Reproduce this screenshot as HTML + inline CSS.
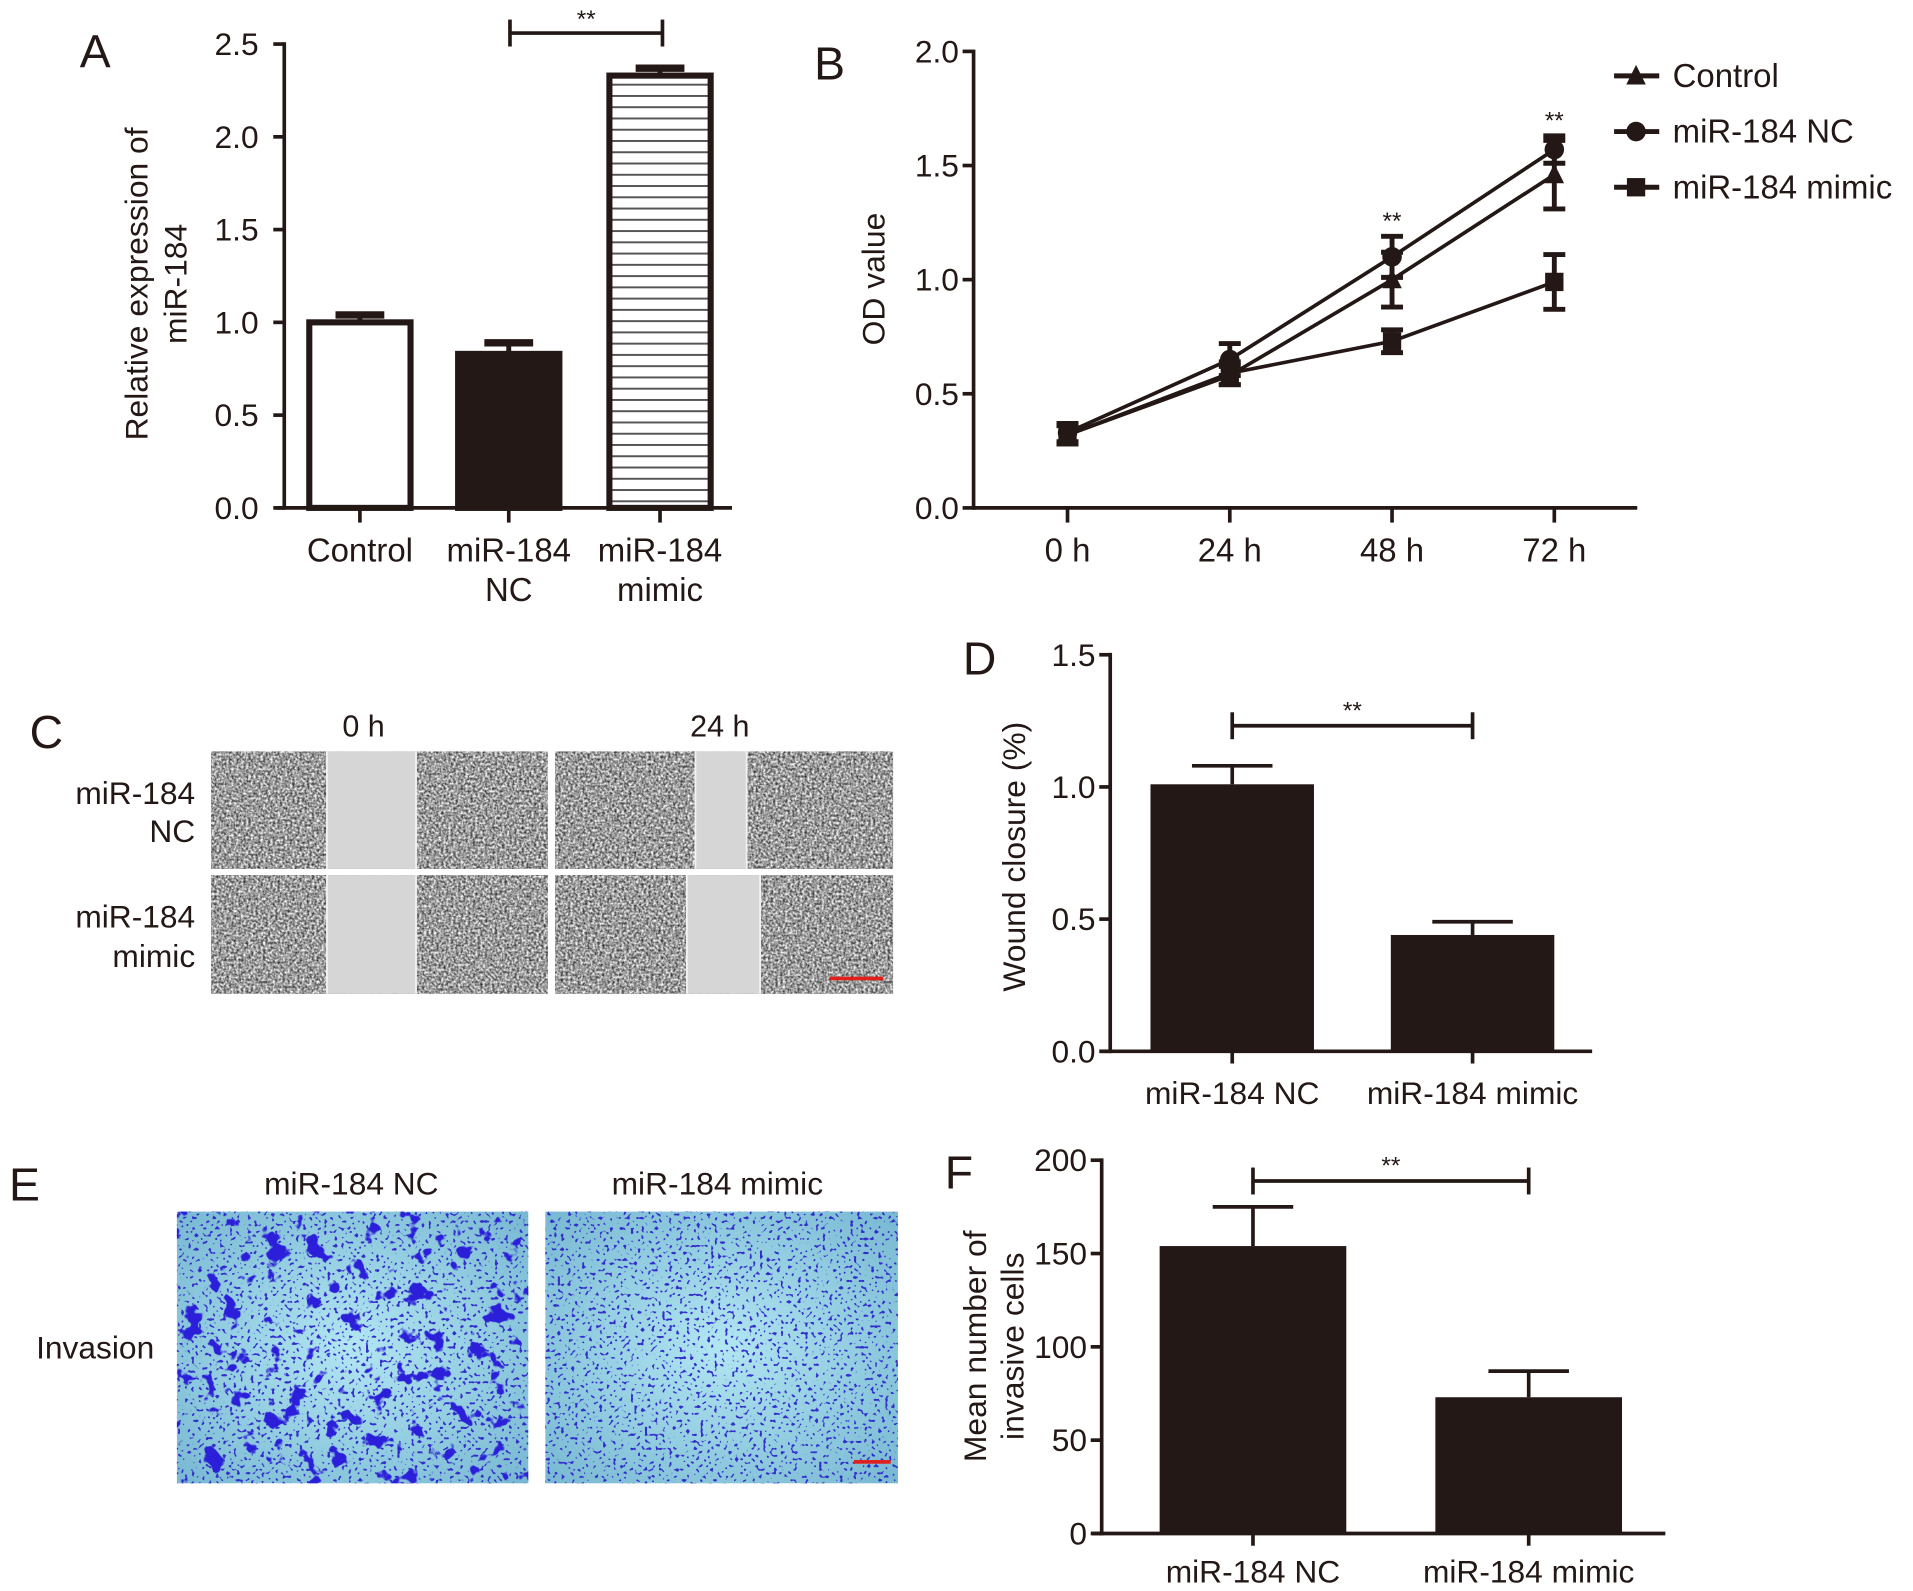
<!DOCTYPE html>
<html><head><meta charset="utf-8"><style>
html,body{margin:0;padding:0;background:#fff;}
svg{display:block;}
text{font-family:"Liberation Sans",sans-serif;fill:#231815;}
</style></head><body>
<svg id="fig" width="1913" height="1591" viewBox="0 0 1568 1300" preserveAspectRatio="none" xmlns="http://www.w3.org/2000/svg">
<defs>
<filter id="grayTex" x="0" y="0" width="100%" height="100%" color-interpolation-filters="sRGB">
<feTurbulence type="fractalNoise" baseFrequency="0.5" numOctaves="2" seed="3" result="n"/>
<feColorMatrix in="n" type="matrix" values="1.3 0 0 0 -0.04  1.3 0 0 0 -0.04  1.3 0 0 0 -0.04  0 0 0 0 1"/>
<feComposite in2="SourceGraphic" operator="in"/>
</filter>
<filter id="blueTex" x="0" y="0" width="100%" height="100%" color-interpolation-filters="sRGB">
<feTurbulence type="fractalNoise" baseFrequency="0.06" numOctaves="3" seed="7"/>
<feColorMatrix type="matrix" values="0 0 0 0 0.17  0 0 0 0 0.12  0 0 0 0 0.85  18 0 0 0 -11.2"/>
<feComposite in2="SourceGraphic" operator="in"/>
</filter>
<filter id="blueDots" x="0" y="0" width="100%" height="100%" color-interpolation-filters="sRGB">
<feTurbulence type="fractalNoise" baseFrequency="0.35" numOctaves="1" seed="11"/>
<feColorMatrix type="matrix" values="0 0 0 0 0.2  0 0 0 0 0.18  0 0 0 0 0.8  15 0 0 0 -9.1"/>
<feComposite in2="SourceGraphic" operator="in"/>
</filter>
<radialGradient id="cyanBg" cx="50%" cy="50%" r="70%">
<stop offset="0" stop-color="#b2e6f2"/><stop offset="1" stop-color="#78b8d2"/>
</radialGradient>
<pattern id="hlines" width="10" height="9.2" patternUnits="userSpaceOnUse">
<rect width="10" height="9.2" fill="#fff"/><rect y="4" width="10" height="1.6" fill="#555"/>
</pattern>
</defs>
<g id="root"></g>
</svg>
<script>
// ---------- Data ----------
const aCategories = [["Control"], ["miR-184", "NC"], ["miR-184", "mimic"]];
const aValues = [1.0, 0.83, 2.33];
const aErrors = [0.04, 0.06, 0.04];
const aTicks = ["0.0", "0.5", "1.0", "1.5", "2.0", "2.5"];

const bTimes = ["0 h", "24 h", "48 h", "72 h"];
const bControl = [0.32, 0.58, 1.00, 1.46];
const bControlErr = [0.04, 0.04, 0.12, 0.15];
const bNC = [0.33, 0.65, 1.10, 1.57];
const bNCErr = [0.04, 0.07, 0.09, 0.06];
const bMimic = [0.32, 0.59, 0.73, 0.99];
const bMimicErr = [0.04, 0.05, 0.05, 0.12];
const bTicks = ["0.0", "0.5", "1.0", "1.5", "2.0"];

const dCategories = ["miR-184 NC", "miR-184 mimic"];
const dValues = [1.01, 0.44];
const dErrors = [0.07, 0.05];
const dTicks = ["0.0", "0.5", "1.0", "1.5"];

const fCategories = ["miR-184 NC", "miR-184 mimic"];
const fValues = [154, 73];
const fErrors = [21, 14];
const fTicks = ["0", "50", "100", "150", "200"];

// ---------- helpers ----------
const NS = "http://www.w3.org/2000/svg";
const root = document.getElementById("root");
const INK = "#231815";
function el(tag, attrs, parent) {
  const e = document.createElementNS(NS, tag);
  for (const k in attrs) e.setAttribute(k, attrs[k]);
  (parent || root).appendChild(e);
  return e;
}
function txt(s, x, y, size, anchor, parent, extra) {
  const t = el("text", Object.assign({x: x, y: y, "font-size": size, "text-anchor": anchor || "middle"}, extra || {}), parent);
  t.textContent = s;
  return t;
}
function line(x1, y1, x2, y2, w, parent) {
  return el("line", {x1: x1, y1: y1, x2: x2, y2: y2, stroke: INK, "stroke-width": w || 3}, parent);
}
function group(name) {
  const g = el("g", {});
  
  
  return g;
}
function sig(g, x1, x2, y, ty) {
  line(x1, y, x2, y, 3, g); line(x1, y - 11, x1, y + 11, 3, g); line(x2, y - 11, x2, y + 11, 3, g);
  const s = txt("**", (x1 + x2) / 2, ty, 20, "middle", g);
  
  
}
function vlabel(g, lines, x, cy, size, gap) {
  lines.forEach((s, i) => {
    const xx = x + i * gap;
    const t = txt(s, xx, cy, size, "middle", g, {transform: "rotate(-90 " + xx + " " + cy + ")"});
    
    
  });
}

// ---------- Panel A ----------
(function () {
  const g = group("panel-a-bar-chart");
  const ax = 233, y0 = 415, ymax = 2.5, ytop = 36;
  const ys = v => y0 - (v / ymax) * (y0 - ytop);
  const centers = [295, 417, 541], bw = 83;
  txt("A", 78, 55, 38, "middle", g);
  aValues.forEach((v, i) => {
    const cx = centers[i];
    const fill = i === 0 ? "#fff" : (i === 1 ? INK : "url(#hlines)");
    const r = el("rect", {x: cx - bw / 2, y: ys(v), width: bw, height: y0 - ys(v), fill: fill, stroke: INK, "stroke-width": 5}, g);
    
    
    line(cx, ys(v), cx, ys(v + aErrors[i]), 4, g);
    line(cx - 20, ys(v + aErrors[i]), cx + 20, ys(v + aErrors[i]), 6, g);
    line(cx, y0, cx, y0 + 12, 3, g);
    aCategories[i].forEach((s, j) => {
      const t = txt(s, cx, 459 + j * 32, 27, "middle", g);
      
      
    });
  });
  line(ax, y0 + 1.5, ax, ytop - 1.5, 3, g);
  line(226, y0, 600, y0, 3, g);
  aTicks.forEach(s => {
    const y = ys(parseFloat(s));
    line(ax - 9, y, ax, y, 3, g);
    const t = txt(s, 212, y + 9, 26, "end", g);
    
    
  });
  vlabel(g, ["Relative expression of", "miR-184"], 121, 232, 26, 32);
  sig(g, 418, 543, 27, 22);
})();

// ---------- Panel B ----------
(function () {
  const g = group("panel-b-line-chart");
  const ax = 798, y0 = 415, ytop = 42, ymax = 2.0;
  const ys = v => y0 - (v / ymax) * (y0 - ytop);
  const xs = i => 875 + i * 133;
  txt("B", 680, 65, 38, "middle", g);
  line(ax, y0 + 1.5, ax, ytop - 1.5, 3, g);
  line(ax, y0, 1342, y0, 3, g);
  bTicks.forEach(s => {
    const y = ys(parseFloat(s));
    line(ax - 9, y, ax, y, 3, g);
    const t = txt(s, 786, y + 9, 26, "end", g);
    
    
  });
  bTimes.forEach((s, i) => {
    line(xs(i), y0, xs(i), y0 + 12, 3, g);
    const t = txt(s, xs(i), 459, 27, "middle", g);
    
    
  });
  vlabel(g, ["OD value"], 725, 228, 26, 0);
  const series = [
    {name: "control", v: bControl, e: bControlErr, m: "tri"},
    {name: "nc", v: bNC, e: bNCErr, m: "circ"},
    {name: "mimic", v: bMimic, e: bMimicErr, m: "sq"}
  ];
  function marker(m, x, y, pg) {
    if (m === "tri") return el("polygon", {points: (x - 8) + "," + (y + 7) + " " + (x + 8) + "," + (y + 7) + " " + x + "," + (y - 9), fill: INK}, pg);
    if (m === "circ") return el("circle", {cx: x, cy: y, r: 8, fill: INK}, pg);
    return el("rect", {x: x - 7.5, y: y - 7.5, width: 15, height: 15, fill: INK}, pg);
  }
  series.forEach(s => {
    const sg = el("g", {}, g);
    
    
    el("polyline", {points: s.v.map((v, i) => xs(i) + "," + ys(v)).join(" "), fill: "none", stroke: INK, "stroke-width": 3}, sg);
    s.v.forEach((v, i) => {
      const x = xs(i);
      line(x, ys(v - s.e[i]), x, ys(v + s.e[i]), 4, sg);
      line(x - 9, ys(v - s.e[i]), x + 9, ys(v - s.e[i]), 4, sg);
      line(x - 9, ys(v + s.e[i]), x + 9, ys(v + s.e[i]), 4, sg);
      const mk = marker(s.m, x, ys(v), sg);
      
      
    });
  });
  txt("**", xs(2), ys(Math.max(bNC[2] + bNCErr[2], bControl[2] + bControlErr[2])) - 6, 20, "middle", g);
  txt("**", xs(3), ys(Math.max(bNC[3] + bNCErr[3], bControl[3] + bControlErr[3])) - 6, 20, "middle", g);
  const leg = [["Control", "tri"], ["miR-184 NC", "circ"], ["miR-184 mimic", "sq"]];
  leg.forEach((L, i) => {
    const y = 62 + i * 45.5;
    const lg = el("g", {}, g);
    
    
    line(1323, y, 1360, y, 4, lg);
    marker(L[1], 1341, y, lg);
    txt(L[0], 1371, y + 9, 27, "start", lg);
  });
})();

// ---------- Panel C (images) ----------
(function () {
  const g = group("panel-c-wound-images");
  txt("C", 38, 611, 38, "middle", g);
  txt("0 h", 298, 602, 25, "middle", g);
  txt("24 h", 590, 602, 25, "middle", g);
  [["miR-184", 657], ["NC", 688], ["miR-184", 758], ["mimic", 790]].forEach(a => txt(a[0], 160, a[1], 26, "end", g));
  const rows = [[614, 710], [715, 812]];
  const cols = [[173, 449], [455, 732]];
  const gaps = [[[268, 341], [570, 612]], [[268, 341], [563, 623]]];
  rows.forEach((r, ri) => cols.forEach((c, ci) => {
    const ig = el("g", {}, g);
    
    
    el("rect", {x: c[0], y: r[0], width: c[1] - c[0], height: r[1] - r[0], fill: "#a8a8a8"}, ig);
    el("rect", {x: c[0], y: r[0], width: c[1] - c[0], height: r[1] - r[0], fill: "#fff", filter: "url(#grayTex)"}, ig);
    const gp = gaps[ri][ci];
    el("rect", {x: gp[0], y: r[0], width: gp[1] - gp[0], height: r[1] - r[0], fill: "#d6d6d6"}, ig);
    line(gp[0], r[0], gp[0], r[1], 1.5, ig).setAttribute("stroke", "#f2f2f2");
    line(gp[1], r[0], gp[1], r[1], 1.5, ig).setAttribute("stroke", "#f2f2f2");
  }));
  el("rect", {x: 680, y: 798, width: 44, height: 3, fill: "#e0201c"}, g);
})();

// ---------- Panel E (images) ----------
(function () {
  const g = group("panel-e-invasion-images");
  txt("E", 20, 981, 38, "middle", g);
  txt("miR-184 NC", 288, 976, 26, "middle", g);
  txt("miR-184 mimic", 588, 976, 26, "middle", g);
  txt("Invasion", 78, 1110, 26, "middle", g);
  [[145, 433, 0], [447, 736, 1]].forEach(c => {
    const ig = el("g", {}, g);
    
    
    el("rect", {x: c[0], y: 990, width: c[1] - c[0], height: 222, fill: "url(#cyanBg)"}, ig);
    el("rect", {x: c[0], y: 990, width: c[1] - c[0], height: 222, fill: "#fff", filter: "url(#blueDots)"}, ig);
    if (c[2] === 0) el("rect", {x: c[0], y: 990, width: c[1] - c[0], height: 222, fill: "#fff", filter: "url(#blueTex)"}, ig);
  });
  el("rect", {x: 700, y: 1193, width: 30, height: 3, fill: "#e0201c"}, g);
})();

// ---------- generic bar panel ----------
function barPanel(name, letter, lx, ly, ax, y0, ytop, ymax, xend, ticks, tickX, cats, vals, errs, centers, bw, ylab, ylx, lcy, sigY, labY) {
  const g = group(name);
  const ys = v => y0 - (v / ymax) * (y0 - ytop);
  txt(letter, lx, ly, 38, "middle", g);
  vals.forEach((v, i) => {
    const cx = centers[i];
    const r = el("rect", {x: cx - bw / 2, y: ys(v), width: bw, height: y0 - ys(v), fill: INK}, g);
    
    
    line(cx, ys(v), cx, ys(v + errs[i]), 3, g);
    line(cx - 33, ys(v + errs[i]), cx + 33, ys(v + errs[i]), 3, g);
    line(cx, y0, cx, y0 + 10, 3, g);
    const t = txt(cats[i], cx, labY, 26, "middle", g);
    
    
  });
  line(ax, y0 + 1.5, ax, ytop - 1.5, 3, g);
  line(ax - 8, y0, xend, y0, 3, g);
  ticks.forEach(s => {
    const y = ys(parseFloat(s));
    line(ax - 9, y, ax, y, 3, g);
    const t = txt(s, tickX, y + 9, 26, "end", g);
    
    
  });
  vlabel(g, ylab, ylx, lcy, 26, 31);
  sig(g, centers[0], centers[1], sigY, sigY - 6);
}
barPanel("panel-d-bar-chart", "D", 803, 551, 910, 859, 535, 1.5, 1305, dTicks, 898, dCategories, dValues, dErrors, [1010, 1207], 134, ["Wound closure (%)"], 840, 700, 593, 902);
barPanel("panel-f-bar-chart", "F", 786, 971, 903, 1253, 948, 200, 1365, fTicks, 891, fCategories, fValues, fErrors, [1027, 1253], 153, ["Mean number of", "invasive cells"], 808, 1100, 965, 1293);
</script>
</body></html>
